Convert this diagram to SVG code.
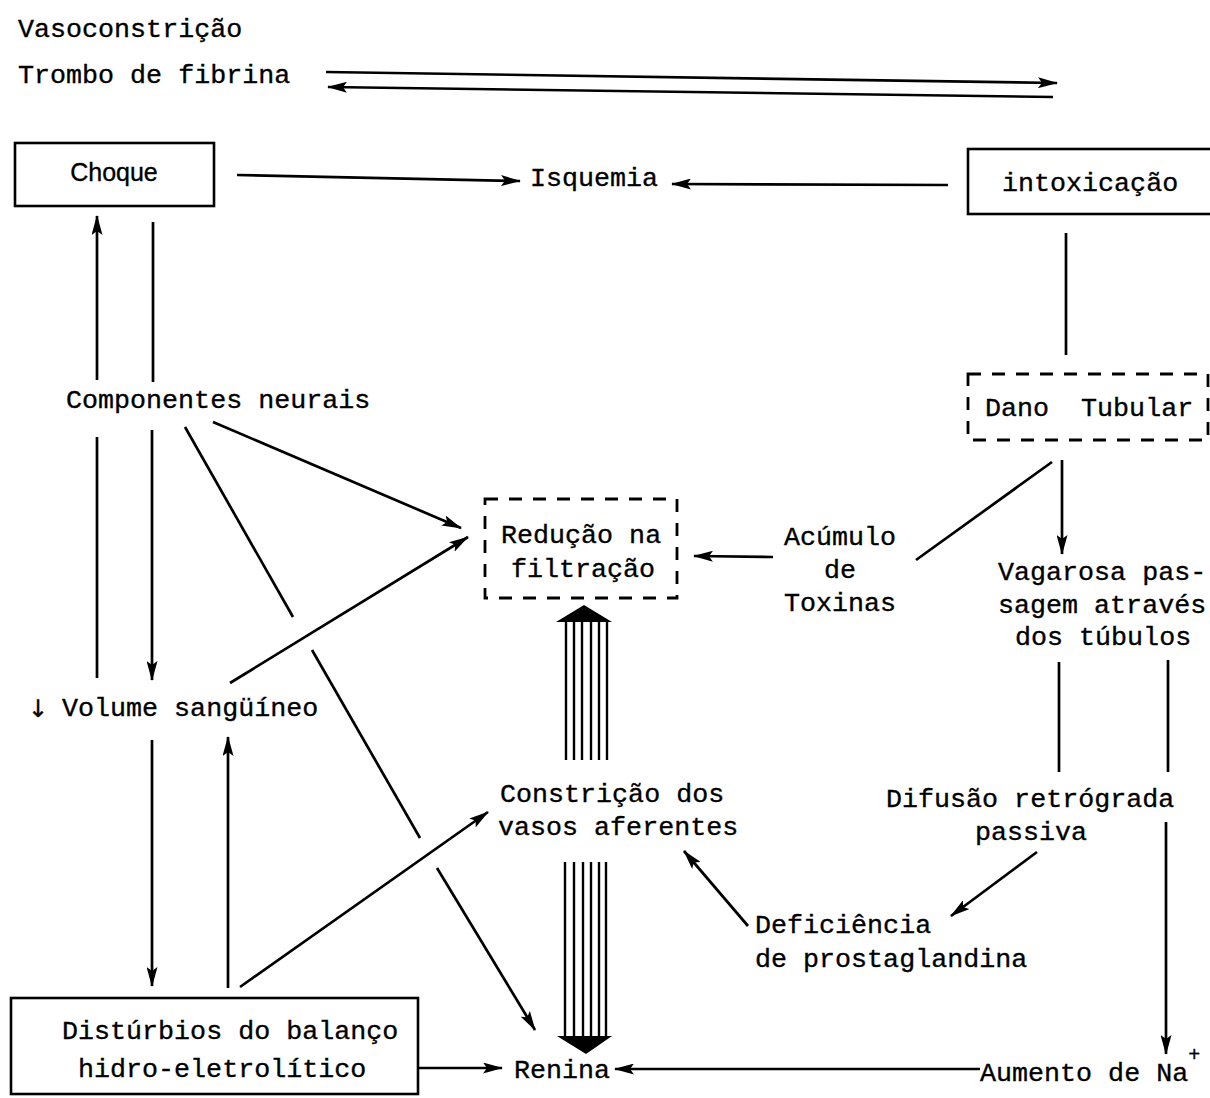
<svg xmlns="http://www.w3.org/2000/svg" width="1210" height="1098" viewBox="0 0 1210 1098">
<style>
  text { font-family: "Liberation Mono", "DejaVu Sans Mono", monospace; font-size: 26.7px; fill: #000; stroke: #000; stroke-width: 0.35; }
  .sans { font-family: "Liberation Sans", Arial, sans-serif; font-size: 25px; }
  .box { fill: none; stroke: #000; stroke-width: 2.6; }
  .dash { fill: none; stroke: #000; stroke-width: 2.8; stroke-dasharray: 13 11; }
  .ln { fill: none; stroke: #000; stroke-width: 2.7; }
  .ar { fill: none; stroke: #000; stroke-width: 2.7; marker-end: url(#ah); }
  .hatch { stroke: #000; stroke-width: 2.4; }
</style>
<defs>
  <marker id="ah" viewBox="0 0 20 11" refX="19" refY="5.5" markerWidth="20" markerHeight="11" markerUnits="userSpaceOnUse" orient="auto">
    <path d="M0,0 L20,5.5 L0,11 L4,5.5 z" fill="#000"/>
  </marker>
</defs>
<rect width="1210" height="1098" fill="#fff"/>

<g id="vasoconstricao"><text x="18" y="37">Vasoconstrição</text></g>
<g id="trombo"><text x="18" y="83">Trombo de fibrina</text></g>

<g id="choque">
  <rect class="box" x="15" y="143" width="199" height="63"/>
  <text class="sans" x="114" y="181" text-anchor="middle">Choque</text>
</g>
<g id="isquemia"><text x="530" y="186">Isquemia</text></g>
<g id="intoxicacao">
  <rect class="box" x="968" y="149" width="250" height="65"/>
  <text x="1002" y="191">intoxicação</text>
</g>
<g id="componentes"><text x="66" y="408">Componentes neurais</text></g>
<g id="dano">
  <rect class="dash" x="968" y="374" width="240" height="66"/>
  <text x="985" y="416" word-spacing="16">Dano Tubular</text>
</g>
<g id="reducao">
  <rect class="dash" x="485" y="499" width="192" height="99"/>
  <text x="501" y="543">Redução na</text>
  <text x="511" y="577">filtração</text>
</g>
<g id="acumulo">
  <text x="840" y="545" text-anchor="middle">Acúmulo</text>
  <text x="840" y="578" text-anchor="middle">de</text>
  <text x="840" y="611" text-anchor="middle">Toxinas</text>
</g>
<g id="vagarosa">
  <text x="998" y="580">Vagarosa pas-</text>
  <text x="998" y="613">sagem através</text>
  <text x="1015" y="645">dos túbulos</text>
</g>
<g id="volume">
  <text x="38" y="717" style="font-family:'DejaVu Sans',sans-serif;font-size:24px" text-anchor="middle">↓</text>
  <text x="62" y="716">Volume sangüíneo</text>
</g>
<g id="constricao">
  <text x="500" y="802">Constrição dos</text>
  <text x="498" y="835">vasos aferentes</text>
</g>
<g id="difusao">
  <text x="886" y="807">Difusão retrógrada</text>
  <text x="975" y="840">passiva</text>
</g>
<g id="deficiencia">
  <text x="755" y="933">Deficiência</text>
  <text x="755" y="967">de prostaglandina</text>
</g>
<g id="disturbios">
  <rect class="box" x="11" y="998" width="407" height="96"/>
  <text x="62" y="1039">Distúrbios do balanço</text>
  <text x="78" y="1077">hidro-eletrolítico</text>
</g>
<g id="renina"><text x="514" y="1078">Renina</text></g>
<g id="aumento">
  <text x="980" y="1081">Aumento de Na<tspan dy="-20" font-size="20">+</tspan></text>
</g>

<g id="connectors">
  <line class="ar" x1="326" y1="72" x2="1057" y2="83"/>
  <line class="ar" x1="1053" y1="97" x2="328" y2="87"/>
  <line class="ar" x1="237" y1="175" x2="520" y2="181"/>
  <line class="ar" x1="948" y1="185" x2="672" y2="184"/>
  <line class="ln" x1="1066" y1="233" x2="1066" y2="355"/>
  <line class="ar" x1="97" y1="380" x2="97" y2="216"/>
  <line class="ln" x1="153" y1="222" x2="153" y2="382"/>
  <line class="ln" x1="97" y1="437" x2="97" y2="678"/>
  <line class="ar" x1="152" y1="430" x2="152" y2="680"/>
  <line class="ar" x1="213" y1="422" x2="461" y2="528"/>
  <line class="ln" x1="185" y1="427" x2="293" y2="617"/>
  <line class="ln" x1="312" y1="650" x2="420" y2="838"/>
  <line class="ar" x1="437" y1="868" x2="535" y2="1030"/>
  <line class="ar" x1="230" y1="683" x2="468" y2="537"/>
  <line class="ar" x1="152" y1="740" x2="152" y2="986"/>
  <line class="ar" x1="228" y1="988" x2="228" y2="737"/>
  <line class="ar" x1="240" y1="987" x2="488" y2="812"/>
  <line class="ar" x1="418" y1="1068" x2="502" y2="1068"/>
  <line class="ar" x1="980" y1="1069" x2="615" y2="1069"/>
  <line class="ar" x1="773" y1="557" x2="694" y2="556"/>
  <line class="ln" x1="916" y1="560" x2="1052" y2="462"/>
  <line class="ar" x1="1062" y1="460" x2="1062" y2="554"/>
  <line class="ln" x1="1059" y1="662" x2="1059" y2="772"/>
  <line class="ln" x1="1168" y1="660" x2="1168" y2="772"/>
  <line class="ar" x1="1166" y1="822" x2="1166" y2="1054"/>
  <line class="ar" x1="1037" y1="852" x2="951" y2="916"/>
  <line class="ar" x1="748" y1="926" x2="684" y2="851"/>
  <g id="hatch-up" class="hatch">
    <line x1="566" y1="760" x2="566" y2="621"/>
    <line x1="574" y1="760" x2="574" y2="621"/>
    <line x1="582" y1="760" x2="582" y2="621"/>
    <line x1="591" y1="760" x2="591" y2="621"/>
    <line x1="599" y1="760" x2="599" y2="621"/>
    <line x1="607" y1="760" x2="607" y2="621"/>
    <path d="M556,622 L612,622 L584,605 z" fill="#000" stroke="none"/>
  </g>
  <g id="hatch-down" class="hatch">
    <line x1="565" y1="862" x2="565" y2="1038"/>
    <line x1="574" y1="862" x2="574" y2="1038"/>
    <line x1="583" y1="862" x2="583" y2="1038"/>
    <line x1="591" y1="862" x2="591" y2="1038"/>
    <line x1="599" y1="862" x2="599" y2="1038"/>
    <line x1="606" y1="862" x2="606" y2="1038"/>
    <path d="M557,1036 L612,1036 L586,1054 z" fill="#000" stroke="none"/>
  </g>
</g>
</svg>
